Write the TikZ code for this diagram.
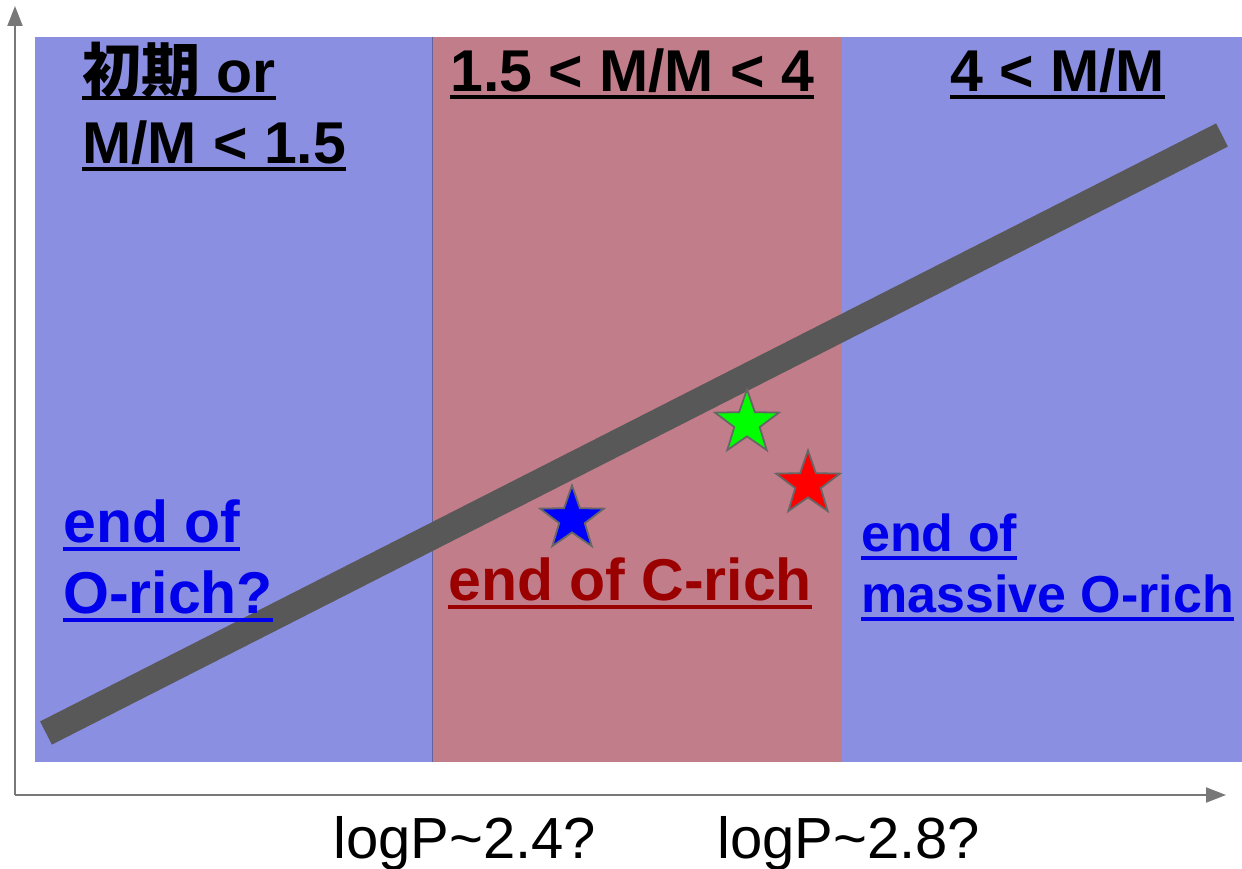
\documentclass[tikz,border=0pt]{standalone}
\usepackage{fontspec}
\setmainfont{Liberation Sans}
\newfontfamily\cjk{Noto Sans CJK JP}
\usetikzlibrary{arrows.meta,shapes.geometric}
\definecolor{bandblue}{RGB}{139,143,225}
\definecolor{bandred}{RGB}{194,125,138}
\definecolor{txtblue}{RGB}{0,0,235}
\definecolor{txtred}{RGB}{155,0,0}
\definecolor{axisgray}{RGB}{120,120,120}
\definecolor{linegray}{RGB}{88,88,88}
\definecolor{stargreen}{RGB}{0,255,0}
\begin{document}
\begin{tikzpicture}[x=1pt,y=-1pt,
  lbl/.style={inner sep=0pt,anchor=base west,font=\fontsize{59}{70}\selectfont\bfseries},
  lblsmall/.style={inner sep=0pt,anchor=base west,font=\fontsize{52}{60}\selectfont\bfseries},
  tick/.style={inner sep=0pt,anchor=base west,font=\fontsize{58}{66}\selectfont},
  ul/.style={line width=3.8pt},
  axis/.style={draw=axisgray,line width=2pt,-{Triangle[length=20pt,width=15pt]}},
  starmark/.style={star,star points=5,star point ratio=2.5,minimum size=67pt,inner sep=0pt,draw=black!60,line width=1.8pt}]
\useasboundingbox (0,0) rectangle (1242,869);
\fill[white] (0,0) rectangle (1242,869);
% bands
\fill[bandblue] (35,37) rectangle (432,762);
\fill[bandred] (432,37) rectangle (842,762);
\fill[bandblue] (842,37) rectangle (1242,762);
\draw[bandblue!70!black,line width=1pt] (432,37) -- (432,762);
% axes
\coordinate (o) at (15,795);
\coordinate (ytip) at (15,6);
\coordinate (xtip) at (1226,795);
\draw[axis] (o) -- (ytip);
\draw[axis] (o) -- (xtip);
% thick trend line
\coordinate (l0) at (46,733);
\coordinate (l1) at (1222,135);
\draw[linegray,line width=26pt] (l0) -- (l1);
% top labels
\node[lbl] (t1a) at (82,93) {{\cjk\bfseries 初期} or};
\node[lbl] (t1b) at (82,164) {M/M < 1.5};
\node[lbl] (t2) at (450,92) {1.5 < M/M < 4};
\node[lbl] (t3) at (950,92) {4 < M/M};
\foreach \n in {t1a,t1b,t2,t3}
  \draw[ul] ([yshift=-5pt]\n.base west) -- ([yshift=-5pt]\n.base east);
% bottom labels
\node[lbl,text=txtblue] (b1a) at (63,542) {end of};
\node[lbl,text=txtblue] (b1b) at (63,613) {O-rich?};
\node[lbl,text=txtred] (b2) at (448,600) {end of C-rich};
\node[lblsmall,text=txtblue] (b3a) at (861,551) {end of};
\node[lblsmall,text=txtblue] (b3b) at (861,612) {massive O-rich};
\foreach \n in {b1a,b1b,b3a,b3b}
  \draw[ul,txtblue] ([yshift=-7pt]\n.base west) -- ([yshift=-7pt]\n.base east);
\draw[ul,txtred] ([yshift=-7pt]b2.base west) -- ([yshift=-7pt]b2.base east);
% stars
\node[starmark,fill=blue] (sb) at (572,519) {};
\node[starmark,fill=stargreen] (sg) at (747,423) {};
\node[starmark,fill=red] (sr) at (808,484) {};
% axis tick labels
\node[tick] (x1) at (333,858) {logP\textasciitilde 2.4?};
\node[tick] (x2) at (717,858) {logP\textasciitilde 2.8?};
\end{tikzpicture}
\end{document}
